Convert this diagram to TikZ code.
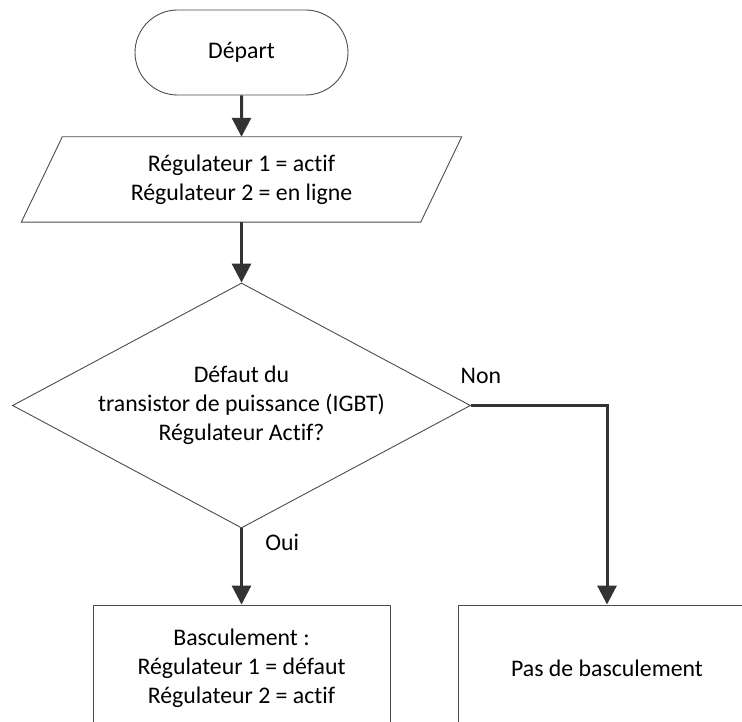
\documentclass[tikz,border=0pt]{standalone}
\usepackage{fontspec}
\setmainfont{Carlito}[Ligatures=NoCommon]
\usetikzlibrary{arrows.meta,shapes.geometric,shapes.misc}
\def\cx{241.5}
\def\rx{607}

\begin{document}
\begin{tikzpicture}
    [
        x=1pt, y=-1pt,
        every node/.style={font=\fontsize{23.8}{29}\selectfont, align=center, text=black},
        outline/.style={draw=black!70, line width=0.9pt},
        startbox/.style={outline, rounded rectangle, minimum width=213pt, minimum height=85pt, inner sep=0pt},
        inbox/.style={rectangle, minimum width=399pt, minimum height=85pt, inner sep=0pt},
        testbox/.style={outline, diamond, aspect=1.87, minimum width=458pt, minimum height=245pt, inner sep=0pt},
        stepbox/.style={outline, rectangle, minimum width=297pt, minimum height=126pt, inner sep=0pt},
        flow/.style={-{Triangle[width=19pt,length=19pt]}, line width=3pt, black!80}
    ]
%    \draw[style=help lines,step=50pt] (0,0) grid (742,722);
    \node[startbox] (start) at (\cx, 52.5) {Départ};
    \node[inbox] (input) at (\cx, 179.5) {Régulateur 1 = actif\\Régulateur 2 = en ligne};
    \draw[outline] ([xshift=20.5pt]input.north west) -- ([xshift=20.5pt]input.north east)
        -- ([xshift=-20.5pt]input.south east) -- ([xshift=-20.5pt]input.south west) -- cycle;
    \node[testbox] (test) at (\cx, 405.5) {Défaut du\\transistor de puissance (IGBT)\\Régulateur Actif?};
    \node[stepbox] (yesbox) at (\cx, 668) {Basculement :\\Régulateur 1 = défaut\\Régulateur 2 = actif};
    \node[stepbox] (nobox) at (\rx, 668) {Pas de basculement};

    \draw[flow] (start) -- (input);
    \draw[flow] (input) -- (test);
    \draw[flow] (test) -- (yesbox) node[pos=0.18, right=19pt] (yes) {Oui};
    \draw[flow] (test.east) -| (nobox.north);
    \node (no) at ([xshift=10pt,yshift=30pt]test.east) {Non};

    \pgfresetboundingbox
    \useasboundingbox (0,0) rectangle (742,722);
\end{tikzpicture}
\end{document}
